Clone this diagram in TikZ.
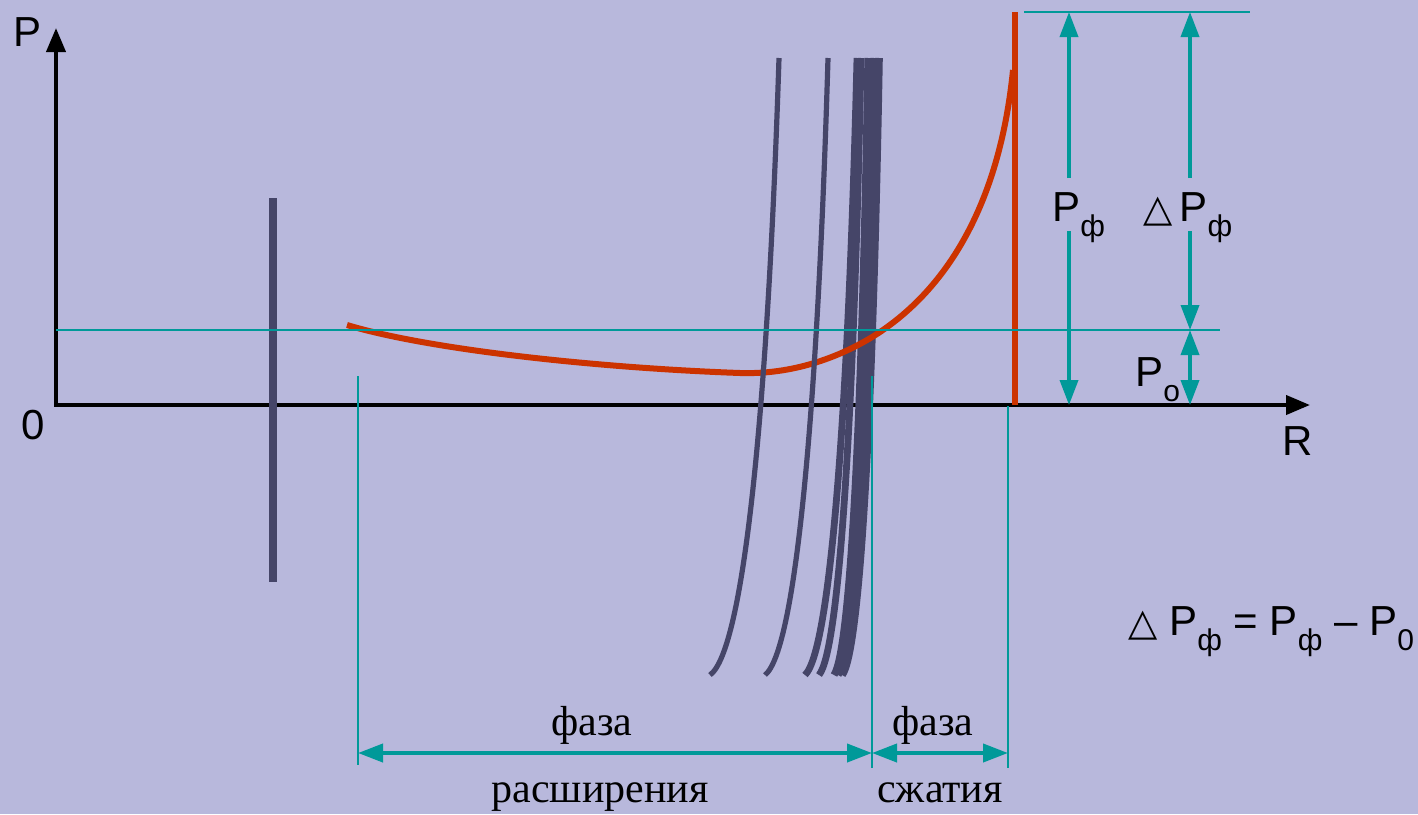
\documentclass[tikz,border=0pt]{standalone}
\usepackage{fontspec}
\setmainfont{Liberation Serif}
\setsansfont{Liberation Sans}
\newfontfamily\trifont{DejaVu Sans}
\usetikzlibrary{arrows.meta}
\definecolor{bgviolet}{HTML}{B8B8DC}
\definecolor{slate}{HTML}{454568}
\definecolor{redcurve}{HTML}{CC3300}
\definecolor{tealline}{HTML}{009999}
\newcommand{\lowsub}[1]{\raisebox{-7.5pt}{\fontsize{15}{18}\selectfont #1}}
\newcommand{\deltri}{{\trifont\fontsize{19}{22}\selectfont △}}

\begin{document}
\begin{tikzpicture}[x=0.5pt, y=-0.5pt,
    sanslab/.style={font=\sffamily\fontsize{21}{25}\selectfont, inner sep=0pt},
    seriflab/.style={font=\fontsize{21}{25}\selectfont, inner sep=0pt},
    guide/.style={tealline, line width=1pt},
    axis/.style={black, line width=2pt, {Triangle[length=12pt, width=9.5pt]}-{Triangle[length=12pt, width=9.5pt]}},
    dimarrow/.style={tealline, line width=1.8pt, -{Triangle[length=12.5pt, width=9pt]}},
    dimboth/.style={tealline, line width=1.8pt, {Triangle[length=12.5pt, width=9pt]}-{Triangle[length=12.5pt, width=9pt]}},
    bundle/.style={slate}]
    % background
    \fill[bgviolet] (0,0) rectangle (1418,814);
    \useasboundingbox (0,0) rectangle (1418,814);

    % axes
    \coordinate (O) at (56,405);
    \coordinate (ptip) at (56,28);
    \coordinate (rtip) at (1310,405);
    \draw[axis] (ptip) -- (O) -- (rtip);
    \node[sanslab] (plab) at (28,32) {P};
    \node[sanslab] (zero) at (33,425) {0};
    \node[sanslab] (rlab) at (1298,441) {R};

    % level lines
    \coordinate (p0left) at (56,330);
    \coordinate (p0right) at (1220,330);
    \coordinate (pfleft) at (1024,12);
    \coordinate (pfright) at (1250,12);

    % charge and wave fronts
    \draw[slate, line width=4pt] (273,198) -- (273,582);
    \foreach \xb/\xt/\w in {805/857/3.4, 819/861/3.4, 834/868/3.6, 838/874/3.6, 842/879/3.8}
      \draw[bundle, line width=\w pt] (\xb,675)
        .. controls ({\xb+0.5*(\xt-\xb)},650) and ({\xt-0.16*(\xt-\xb)},400) .. (\xt,58);

    % pressure curve
    \draw[redcurve, line width=3pt] (347,325)
      .. controls (430,350) and (600,368) .. (740,373)
      .. controls (800,375) and (850,352) .. (880,332)
      .. controls (950,285) and (1000,200) .. (1013,70);
    \draw[redcurve, line width=3.2pt] (1015,12) -- (1015,405);

    \foreach \xb/\xt in {710/779, 765/828}
      \draw[bundle, line width=2.6pt] (\xb,675)
        .. controls ({\xb+0.5*(\xt-\xb)},650) and ({\xt-0.16*(\xt-\xb)},400) .. (\xt,58);

    \draw[guide] (p0left) -- (p0right);
    \draw[guide] (pfleft) -- (pfright);

    % phase boundaries
    \draw[guide] (358,376) -- (358,765);
    \draw[guide] (872,376) -- (872,768);
    \draw[guide] (1008,406) -- (1008,768);
    \coordinate (expL) at (358,753);
    \coordinate (expR) at (872,753);
    \coordinate (cmpR) at (1008,753);
    \draw[dimboth, line width=2pt] (expL) -- (expR);
    \draw[dimboth, line width=2pt] (expR) -- (cmpR);
    \node[seriflab, anchor=base] (faza1) at (592,735) {фаза};
    \node[seriflab, anchor=base] (rassh) at (600,802) {расширения};
    \node[seriflab, anchor=base] (faza2) at (933,735) {фаза};
    \node[seriflab, anchor=base] (szhat) at (940,802) {сжатия};

    % pressure dimensions
    \node[sanslab, anchor=base west] (pflab) at (1052,221) {P\lowsub{ф}};
    \coordinate (pftop) at (1069,12);
    \coordinate (pfgapA) at (1069,178);
    \coordinate (pfgapB) at (1069,231);
    \coordinate (pfbot) at (1069,405);
    \draw[dimarrow] (pfgapA) -- (pftop);
    \draw[dimarrow] (pfgapB) -- (pfbot);

    \node[sanslab, anchor=base west] (dpflab) at (1143,221) {\deltri\,P\lowsub{ф}};
    \coordinate (dptop) at (1190,12);
    \coordinate (dpgapA) at (1190,178);
    \coordinate (dpgapB) at (1190,231);
    \coordinate (dpbot) at (1190,330);
    \draw[dimarrow] (dpgapA) -- (dptop);
    \draw[dimarrow] (dpgapB) -- (dpbot);

    \node[sanslab, anchor=base west] (polab) at (1135,386) {P\lowsub{o}};
    \coordinate (pobot) at (1190,405);
    \draw[dimboth] (dpbot) -- (pobot);

    % definition
    \node[sanslab, anchor=base west] (formula) at (1128,635)
      {\deltri\ P\lowsub{ф} = P\lowsub{ф} – P\lowsub{0}};
\end{tikzpicture}
\end{document}
